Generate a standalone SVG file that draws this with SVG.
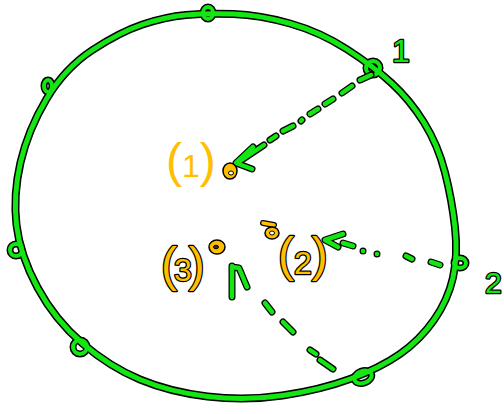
<svg xmlns="http://www.w3.org/2000/svg" width="504" height="414" viewBox="0 0 504 414">
<style>
.o{fill:none;stroke:#000;stroke-width:8;stroke-linecap:round;stroke-linejoin:round}
.g{fill:none;stroke:#14e614;stroke-width:5;stroke-linecap:round;stroke-linejoin:round}
.ring{fill:none;stroke:#14e614;stroke-width:4}
.ringo{fill:none;stroke:#000;stroke-width:7}
.lab{font-family:"Liberation Sans",Arial,sans-serif;fill:#ffbf00;paint-order:stroke;stroke-linejoin:round}
.glab{font-family:"Liberation Sans",Arial,sans-serif;fill:#14e614;stroke:#000;stroke-width:2.5;paint-order:stroke;stroke-linejoin:round}
.pt{fill:#ffbf00;stroke:#000;stroke-width:1.5}
</style>
<rect width="504" height="414" fill="#fff"/>
<g id="circle">
<path id="rim" class="o" d="M 186 15 Q 207 13 233.5 14 Q 260 15 290 23.5 Q 320 32 346.5 49 Q 373 66 391.5 83 Q 410 100 424 122.5 Q 438 145 445 172.5 Q 452 200 455 227.5 Q 458 255 453 277.5 Q 448 300 434 320 Q 420 340 400 354 Q 380 368 350 379 Q 320 390 282.5 395.5 Q 245 401 207.5 396.5 Q 170 392 140 379.5 Q 110 367 82.5 343.5 Q 55 320 37.5 287.5 Q 20 255 16.5 225 Q 13 195 20.5 162.5 Q 28 130 46.5 99 Q 65 68 92.5 50 Q 120 32 142.5 24.5 Q 165 17 186 15 Z"/>
<g class="ringo">
<ellipse cx="208" cy="13" rx="5" ry="6"/>
<circle cx="373" cy="68" r="7"/>
<ellipse cx="460" cy="263" rx="6" ry="5"/>
<ellipse cx="363" cy="377" rx="9" ry="6" transform="rotate(-20 363 377)"/>
<circle cx="80" cy="347" r="7"/>
<circle cx="16" cy="250" r="6"/>
<ellipse cx="48" cy="86" rx="4" ry="6"/>
</g>
<path class="g" d="M 186 15 Q 207 13 233.5 14 Q 260 15 290 23.5 Q 320 32 346.5 49 Q 373 66 391.5 83 Q 410 100 424 122.5 Q 438 145 445 172.5 Q 452 200 455 227.5 Q 458 255 453 277.5 Q 448 300 434 320 Q 420 340 400 354 Q 380 368 350 379 Q 320 390 282.5 395.5 Q 245 401 207.5 396.5 Q 170 392 140 379.5 Q 110 367 82.5 343.5 Q 55 320 37.5 287.5 Q 20 255 16.5 225 Q 13 195 20.5 162.5 Q 28 130 46.5 99 Q 65 68 92.5 50 Q 120 32 142.5 24.5 Q 165 17 186 15 Z"/>
<g class="ring">
<ellipse cx="208" cy="13" rx="5" ry="6"/>
<circle cx="373" cy="68" r="7"/>
<ellipse cx="460" cy="263" rx="6" ry="5"/>
<ellipse cx="363" cy="377" rx="9" ry="6" transform="rotate(-20 363 377)"/>
<circle cx="80" cy="347" r="7"/>
<circle cx="16" cy="250" r="6"/>
<ellipse cx="48" cy="86" rx="4" ry="6"/>
</g>
</g>
<g id="connectors">
<g class="o" style="stroke-width:7">
<path d="M371 75 L360 80 M352 86 L342 93 M333 99 L325 104 M318 109 L310 114 M302 120 L301 121 M293 126 L283 131 M276 136 L270 140 M264 145 L237 163 M253 147 L236 163 L252 169"/>
<path d="M440 265 L431 262 M412 259 L406 256 M377 254 L377 254 M363 251 L363 251 M353 246 L343 243 M343 234 L325 240 L338 247"/>
<path d="M333 369 L320 360 M316 354 L310 350 M293 332 L283 322 M272 312 L265 303 M232 297 L232 266 M232 267 L239 268 L247 287"/>
</g>
<g class="g" style="stroke-width:4.5">
<path d="M371 75 L360 80 M352 86 L342 93 M333 99 L325 104 M318 109 L310 114 M302 120 L301 121 M293 126 L283 131 M276 136 L270 140 M264 145 L237 163 M253 147 L236 163 L252 169"/>
<path d="M440 265 L431 262 M412 259 L406 256 M377 254 L377 254 M363 251 L363 251 M353 246 L343 243 M343 234 L325 240 L338 247"/>
<path d="M333 369 L320 360 M316 354 L310 350 M293 332 L283 322 M272 312 L265 303 M232 297 L232 266 M232 267 L239 268 L247 287"/>
</g>
</g>
<g id="p1">
<ellipse class="pt" cx="230" cy="171" rx="7" ry="8"/>
<ellipse cx="231" cy="173" rx="2.5" ry="2" fill="#fff" stroke="#000" stroke-width="1"/>
<text class="lab" x="166" y="177" font-size="48">(<tspan font-size="32">1</tspan>)</text>
</g>
<g id="p2">
<path d="M263 223 L274 225" stroke="#000" stroke-width="6" stroke-linecap="round"/>
<path d="M263 223 L274 225" stroke="#ffbf00" stroke-width="3.5" stroke-linecap="round"/>
<ellipse class="pt" cx="272" cy="233" rx="7" ry="6"/>
<ellipse cx="272" cy="233" rx="2.5" ry="2" fill="#fff" stroke="#000" stroke-width="1"/>
<text class="lab" x="278" y="271" font-size="48" stroke="#000" stroke-width="2.5">(<tspan font-size="32" dy="3">2</tspan><tspan dy="-3">)</tspan></text>
</g>
<g id="p3">
<ellipse class="pt" cx="217" cy="247" rx="8" ry="7"/>
<ellipse cx="216" cy="247" rx="2.5" ry="1.8" fill="#333" stroke="#000" stroke-width="1"/>
<text class="lab" x="161" y="281" font-size="48" stroke="#000" stroke-width="2.5" letter-spacing="-3">(<tspan font-size="32">3</tspan>)</text>
</g>
<g id="label1">
<text class="glab" x="392" y="62" font-size="32">1</text>
</g>
<g id="label2">
<text class="glab" x="485" y="293" font-size="30">2</text>
</g>
</svg>
